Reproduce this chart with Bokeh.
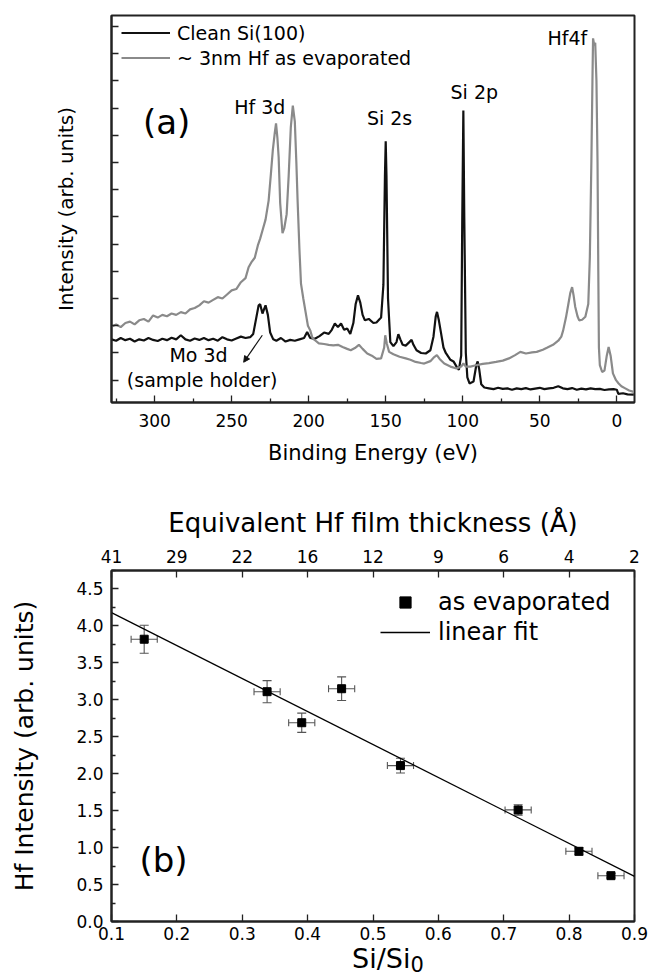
import numpy as np
from bokeh.plotting import figure
from bokeh.models import (Range1d, FixedTicker, LinearAxis, Label, Legend, LegendItem,
                          Whisker, ColumnDataSource, Arrow, NormalHead, TeeHead,
                          NumeralTickFormatter, CustomJSTickFormatter, Div)
from bokeh.layouts import column
from bokeh.embed import file_html
from bokeh.resources import INLINE

FONT = "DejaVu Sans"

# ---------------- (a) XPS survey spectra ----------------
clean_energy = [328, 325, 322, 319, 316, 313, 310, 307, 304, 301, 298, 295, 292, 289, 286, 283,
                280, 277, 274, 271, 268, 265, 262, 259, 256, 253, 250, 247, 244, 241, 238, 236,
                234, 232.5, 231.5, 230, 229, 228, 226.5, 225, 223, 221, 218, 215, 212, 209, 206,
                203, 201, 199, 196, 193, 190, 187, 185, 183, 181, 179, 177, 175, 173, 171, 169.5,
                168, 166.5, 165, 163.5, 161, 158, 156, 153, 151.5, 150.5, 150, 149.5, 148.5, 147,
                145, 143, 141.8, 140.5, 139, 137, 135, 133.2, 132, 130, 127, 124, 121, 119, 117.5,
                116.7, 115.5, 114, 112.5, 111, 108, 106, 104, 102.5, 101, 100.3, 99.6, 99, 98, 97,
                95.6, 93, 91.2, 90.3, 89.3, 88, 86, 83, 80, 77, 74, 71, 68, 65, 62, 59, 56, 53, 50,
                47, 44, 41, 38, 35, 32, 29, 26, 23, 20, 17, 14, 11, 8, 5, 2, 0, -1, -4, -7, -11]
clean_counts = [1.50, 1.45, 1.55, 1.47, 1.52, 1.42, 1.50, 1.46, 1.55, 1.48, 1.44, 1.52, 1.47, 1.56,
                1.50, 1.65, 1.50, 1.45, 1.53, 1.48, 1.55, 1.47, 1.52, 1.45, 1.58, 1.50, 1.46, 1.53,
                1.60, 1.55, 1.58, 1.70, 2.30, 2.75, 2.79, 2.45, 2.60, 2.75, 2.40, 1.75, 1.50, 1.45,
                1.55, 1.42, 1.48, 1.45, 1.50, 1.55, 1.77, 1.55, 1.52, 1.62, 1.75, 1.70, 1.85, 2.08,
                1.95, 2.08, 1.85, 1.90, 1.70, 2.10, 2.80, 3.12, 2.85, 2.40, 2.20, 2.25, 2.10, 2.12,
                2.30, 3.50, 7.50, 8.78, 7.50, 3.00, 1.40, 1.25, 1.40, 1.69, 1.50, 1.30, 1.27, 1.38,
                1.48, 1.30, 1.10, 1.00, 0.98, 1.10, 1.60, 2.35, 2.51, 2.20, 1.70, 1.20, 1.00, 0.75,
                0.69, 0.50, 0.38, 0.90, 6.00, 9.91, 6.00, 1.00, 0.10, -0.12, -0.05, 0.55, 0.69,
                0.40, -0.15, -0.27, -0.30, -0.33, -0.28, -0.32, -0.30, -0.35, -0.30, -0.33, -0.29,
                -0.34, -0.31, -0.28, -0.33, -0.30, -0.28, -0.22, -0.30, -0.33, -0.29, -0.35, -0.31,
                -0.34, -0.30, -0.33, -0.32, -0.36, -0.34, -0.33, -0.35, -0.50, -0.48, -0.52, -0.53]

hf_energy = [328, 325, 322, 319, 316, 313, 310, 307, 304, 301, 298, 295, 292, 289, 286, 283, 280,
             277, 274, 271, 268, 265, 262, 259, 256, 253, 250, 247, 244, 241, 239, 237, 235, 233,
             231.5, 230, 228, 226, 224.5, 223.3, 222, 221.2, 220.3, 219.5, 218.5, 217, 215.8,
             214.3, 213, 211.6, 210.3, 209, 208, 207.2, 206, 205, 203.5, 202, 200.5, 199, 197.5,
             195.5, 193.4, 190, 187, 184, 181, 178, 175, 172.7, 170, 167.4, 165, 162, 159, 156,
             153, 151, 150.3, 149.3, 147.8, 145, 141, 137, 134, 130.6, 127, 125, 121, 118.5,
             116.8, 115, 112, 108, 104, 101, 99.6, 98, 95, 91.5, 87, 83, 78.4, 74, 70, 66, 62.6,
             59, 55, 52, 48, 45, 41.4, 38, 36, 34.8, 33, 31.4, 30.2, 29, 28, 27, 25.5, 24.4, 22.5,
             20.4, 18.5, 17.5, 16.5, 15.8, 15.4, 14.6, 14.0, 13.2, 12.5, 12.0, 11.6, 11, 9.5, 8,
             6.5, 5.3, 4, 2.5, 0.5, -1.2, -3, -5.5, -8, -11]
hf_counts = [1.96, 2.05, 1.95, 2.10, 2.15, 2.05, 2.20, 2.25, 2.15, 2.38, 2.30, 2.40, 2.35, 2.45,
             2.40, 2.50, 2.45, 2.60, 2.65, 2.75, 2.90, 2.85, 2.95, 3.05, 3.00, 3.15, 3.30, 3.35,
             3.60, 3.75, 4.15, 4.35, 4.50, 4.95, 5.20, 5.50, 5.90, 6.60, 7.60, 8.44, 9.10, 9.44,
             8.90, 8.20, 6.50, 5.40, 5.60, 6.10, 7.50, 9.30, 10.09, 9.50, 8.00, 6.60, 4.80, 3.55,
             3.00, 2.50, 2.00, 1.83, 1.54, 1.45, 1.35, 1.33, 1.30, 1.28, 1.30, 1.22, 1.15, 1.10,
             1.18, 1.30, 1.15, 0.98, 0.90, 0.78, 0.80, 1.20, 1.65, 1.35, 1.04, 0.95, 0.86, 0.80,
             0.75, 0.67, 0.63, 0.61, 0.70, 0.85, 0.92, 0.78, 0.61, 0.50, 0.43, 0.50, 0.62, 0.50,
             0.50, 0.55, 0.60, 0.63, 0.67, 0.72, 0.80, 0.92, 1.04, 0.98, 1.02, 1.04, 1.12, 1.20,
             1.30, 1.45, 1.60, 1.83, 2.30, 2.81, 3.20, 3.42, 3.10, 2.70, 2.35, 2.20, 2.22, 2.33,
             2.80, 4.50, 8.00, 11.00, 12.56, 12.30, 12.40, 11.00, 8.00, 4.00, 1.20, 0.55, 0.30,
             0.35, 0.90, 1.22, 0.90, 0.25, 0.00, -0.12, -0.22, -0.30, -0.38, -0.43]

energy_ticks = [300, 250, 200, 150, 100, 50, 0]
energy_minor = [325, 275, 225, 175, 125, 75, 25]
intensity_ticks = list(range(0, 14))

# ---------------- (b) Hf intensity vs Si/Si0 ----------------
si_ratio = [0.150, 0.338, 0.391, 0.452, 0.542, 0.722, 0.815, 0.864]
hf_int = [3.82, 3.11, 2.69, 3.15, 2.11, 1.51, 0.95, 0.62]
si_err = [0.02, 0.02, 0.02, 0.02, 0.02, 0.02, 0.02, 0.02]
hf_err = [0.19, 0.15, 0.13, 0.16, 0.10, 0.07, 0.05, 0.03]
fit_x = [0.1, 0.9]
fit_y = [4.18, 0.61]
si_ticks = [0.1, 0.2, 0.3, 0.4, 0.5, 0.6, 0.7, 0.8, 0.9]
thickness_labels = ["41", "29", "22", "16", "12", "9", "6", "4", "2"]
hf_ticks = [0.0, 0.5, 1.0, 1.5, 2.0, 2.5, 3.0, 3.5, 4.0, 4.5]
hf_minor = [0.25, 0.75, 1.25, 1.75, 2.25, 2.75, 3.25, 3.75, 4.25, 4.75]

FRAME = "#222222"


def style_axis(ax, size="17px"):
    ax.axis_line_color = FRAME
    ax.axis_line_width = 2
    ax.major_tick_line_color = FRAME
    ax.minor_tick_line_color = FRAME
    ax.major_tick_line_width = 1.3
    ax.minor_tick_line_width = 1.3
    ax.major_tick_in = 7
    ax.major_tick_out = 0
    ax.minor_tick_in = 4
    ax.minor_tick_out = 0
    ax.major_label_text_font = FONT
    ax.major_label_text_font_size = size
    ax.major_label_text_color = "black"
    ax.axis_label_text_font = FONT
    ax.axis_label_text_font_style = "normal"
    ax.axis_label_text_color = "black"


# ======== panel (a) ========
p1 = figure(width=650, height=480, x_range=Range1d(328, -11.5), y_range=Range1d(-0.82, 13.4),
            output_backend="svg", toolbar_location=None, title=None,
            min_border_left=104, min_border_right=12, min_border_top=15, min_border_bottom=78)
p1.xgrid.visible = False
p1.ygrid.visible = False
p1.outline_line_color = FRAME
p1.outline_line_width = 2
p1.background_fill_color = "white"

xa = p1.xaxis[0]
style_axis(xa)
xa.ticker = FixedTicker(ticks=energy_ticks, minor_ticks=energy_minor)
xa.axis_label = "Binding Energy (eV)"
xa.axis_label_text_font_size = "21px"
xa.major_label_standoff = 11
xa.axis_label_standoff = 11

ya = p1.yaxis[0]
style_axis(ya)
# unlabeled intensity ticks: drawn as minor ticks so no tick labels are produced
ya.ticker = FixedTicker(ticks=[], minor_ticks=intensity_ticks)
ya.minor_tick_in = 7
ya.major_label_standoff = 0
ya.axis_label = "Intensity (arb. units)"
ya.axis_label_text_font_size = "20px"
ya.axis_label_standoff = 34

r_clean = p1.line(clean_energy, clean_counts, line_color="#111111", line_width=2.2)
r_hf = p1.line(hf_energy, hf_counts, line_color="#8a8a8a", line_width=2.2)

leg1 = Legend(items=[LegendItem(label="Clean Si(100)", renderers=[r_clean]),
                     LegendItem(label="~ 3nm Hf as evaporated", renderers=[r_hf])],
              location=(10, 333), orientation="vertical", padding=0, margin=0, spacing=2,
              glyph_width=49, glyph_height=23, label_height=23, label_standoff=7,
              label_text_font=FONT, label_text_font_size="19px", label_text_color="black",
              background_fill_alpha=0, border_line_alpha=0)
p1.add_layout(leg1)


def ann(p, text, x, y, size="19px", align="center", baseline="middle", angle=0.0):
    p.add_layout(Label(x=x, y=y, text=text, text_font=FONT, text_font_size=size,
                       text_align=align, text_baseline=baseline, text_color="black",
                       angle=angle))


ann(p1, "(a)", 307.6, 9.47, size="34px", align="left")
ann(p1, "Hf 3d", 231.7, 10.02)
ann(p1, "Si 2s", 147.5, 9.65)
ann(p1, "Si 2p", 92.5, 10.6)
ann(p1, "Hf4f", 32.1, 12.59)
ann(p1, "Mo 3d", 271.5, 0.92)
ann(p1, "(sample holder)", 269.2, 0.0)
p1.add_layout(Arrow(end=NormalHead(size=6, fill_color="#111111", line_color="#111111"),
                    x_start=230.1, y_start=1.65, x_end=242.2, y_end=0.66,
                    line_color="#111111", line_width=1.2))

# ======== panel (b) ========
p2 = figure(width=650, height=468, x_range=Range1d(0.1, 0.9), y_range=Range1d(0, 4.75),
            output_backend="svg", toolbar_location=None, title=None,
            min_border_left=111, min_border_right=16, min_border_top=90, min_border_bottom=27)
p2.xgrid.visible = False
p2.ygrid.visible = False
p2.outline_line_color = FRAME
p2.outline_line_width = 2

bx = p2.xaxis[0]
style_axis(bx)
bx.ticker = FixedTicker(ticks=si_ticks, minor_ticks=[])
bx.formatter = NumeralTickFormatter(format="0.0")
bx.major_label_standoff = 5

by = p2.yaxis[0]
style_axis(by)
by.ticker = FixedTicker(ticks=hf_ticks, minor_ticks=hf_minor)
by.formatter = NumeralTickFormatter(format="0.0")
by.major_label_standoff = 8
by.axis_label = "Hf Intensity (arb. units)"
by.axis_label_text_font_size = "25px"
by.axis_label_standoff = 34

top = LinearAxis(ticker=FixedTicker(ticks=si_ticks, minor_ticks=[]),
                 formatter=CustomJSTickFormatter(args=dict(labels=thickness_labels),
                                                 code="const i = Math.round((tick - 0.1) * 10); return labels[i] || '';"),
                 axis_label="Equivalent Hf film thickness (Å)")
style_axis(top)
top.axis_label_text_font_size = "26px"
top.major_label_standoff = 8
top.axis_label_standoff = 9
p2.add_layout(top, "above")

src = ColumnDataSource(dict(
    x=si_ratio, y=hf_int,
    x_lo=np.array(si_ratio) - np.array(si_err), x_hi=np.array(si_ratio) + np.array(si_err),
    y_lo=np.array(hf_int) - np.array(hf_err), y_hi=np.array(hf_int) + np.array(hf_err)))

EB = "#555555"
p2.add_layout(Whisker(source=src, base="x", lower="y_lo", upper="y_hi", dimension="height",
                      line_color=EB, line_width=1.1, level="underlay",
                      lower_head=TeeHead(size=9, line_color=EB, line_width=1.1),
                      upper_head=TeeHead(size=9, line_color=EB, line_width=1.1)))
p2.add_layout(Whisker(source=src, base="y", lower="x_lo", upper="x_hi", dimension="width",
                      line_color=EB, line_width=1.1, level="underlay",
                      lower_head=TeeHead(size=7, line_color=EB, line_width=1.1),
                      upper_head=TeeHead(size=7, line_color=EB, line_width=1.1)))

r_fit = p2.line(fit_x, fit_y, line_color="black", line_width=1.3)
r_pts = p2.scatter("x", "y", source=src, marker="square", size=8, fill_color="black",
                   line_color="black")

leg2 = Legend(items=[LegendItem(label="as evaporated", renderers=[r_pts]),
                     LegendItem(label="linear fit", renderers=[r_fit])],
              location=(269, 275), orientation="vertical", padding=0, margin=0, spacing=2,
              glyph_width=50, glyph_height=28, label_height=28, label_standoff=8,
              label_text_font=FONT, label_text_font_size="24px", label_text_color="black",
              background_fill_alpha=0, border_line_alpha=0)
p2.add_layout(leg2)

ann(p2, "(b)", 0.1427, 0.835, size="34px", align="left")

xlabel = Div(text='Si/Si<sub style="font-size:21px; vertical-align:-4px; line-height:18px;">0</sub>',
             width=650, height=30,
             styles={"font-family": FONT, "font-size": "27px", "color": "black",
                     "padding-left": "352px", "line-height": "22px", "margin": "0",
                     "white-space": "nowrap"})

layout = column(p1, p2, xlabel, spacing=0)
open("out.html", "w").write(file_html(layout, INLINE))
